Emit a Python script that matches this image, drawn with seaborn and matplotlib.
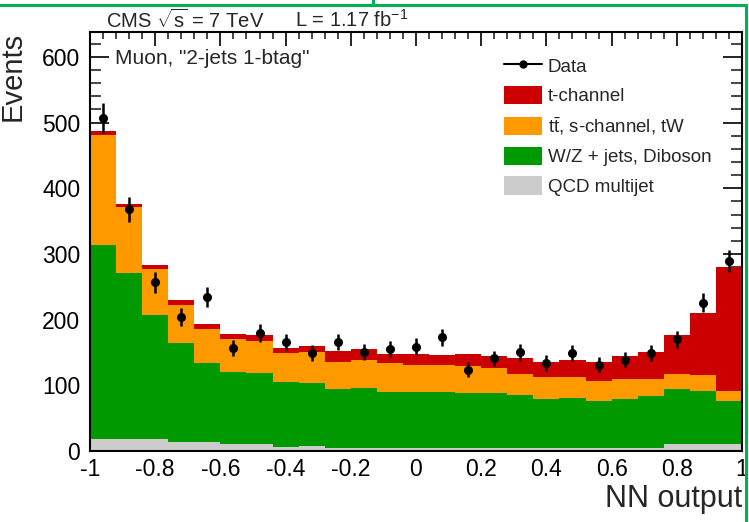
import numpy as np
import pandas as pd
import matplotlib
matplotlib.use("Agg")
import matplotlib.pyplot as plt
from matplotlib.lines import Line2D
from matplotlib.patches import Patch
from matplotlib.ticker import MultipleLocator
import seaborn as sns

# ---------------- data ----------------
bin_edges = [round(-1.0 + 0.08 * i, 2) for i in range(26)]

qcd = [18, 18, 18, 13, 13, 10, 10, 6, 8, 4, 5, 5, 5, 5, 4, 4, 5, 5, 4, 5, 4, 5, 10, 10, 10]
wz_top = [314, 271, 207, 164, 134, 120, 119, 105, 104, 94, 96, 90, 90, 90, 88, 88, 85, 79, 81, 76, 79, 84, 94, 91, 76]
top_top = [481, 372, 277, 222, 186, 171, 167, 149, 150, 136, 139, 134, 131, 131, 129, 127, 118, 112, 112, 107, 109, 109, 118, 115, 91]
tch_top = [487, 376, 283, 230, 193, 178, 176, 157, 160, 152, 155, 148, 148, 146, 148, 145, 142, 136, 139, 136, 145, 151, 176, 210, 280]
data = [507, 368, 257, 204, 235, 157, 180, 166, 149, 166, 151, 155, 159, 173, 124, 141, 150, 134, 149, 131, 139, 149, 170, 226, 289]

labels = ["t-channel", r"t$\bar{\mathrm{t}}$, s-channel, tW", "W/Z + jets, Diboson", "QCD multijet"]
colors = ["#CC0000", "#FF9900", "#009900", "#CCCCCC"]
xtick_labels = ["-1", "-0.8", "-0.6", "-0.4", "-0.2", "0", "0.2", "0.4", "0.6", "0.8", "1"]

# component contributions (stack order bottom: QCD, W/Z, top, t-channel)
qcd_a = np.array(qcd, float)
wz_a = np.array(wz_top, float) - qcd_a
top_a = np.array(top_top, float) - np.array(wz_top, float)
tch_a = np.array(tch_top, float) - np.array(top_top, float)

edges_a = np.array(bin_edges)
centers = 0.5 * (edges_a[:-1] + edges_a[1:])
frames = []
for lab, vals in zip(labels, [tch_a, top_a, wz_a, qcd_a]):
    frames.append(pd.DataFrame({"x": centers, "w": vals, "comp": lab}))
df = pd.concat(frames, ignore_index=True)

# ---------------- style ----------------
sns.set_theme(style="ticks")
plt.rcParams["font.family"] = ["Liberation Sans", "DejaVu Sans"]
plt.rcParams["mathtext.fontset"] = "custom"
plt.rcParams["mathtext.rm"] = "Liberation Sans"
plt.rcParams["mathtext.it"] = "Liberation Sans:italic"
plt.rcParams["axes.unicode_minus"] = False

fig = plt.figure(figsize=(7.49, 5.22), dpi=100)
ax = fig.add_axes([90 / 749, 1 - 451 / 522, (742 - 90) / 749, (451 - 32) / 522])

sns.histplot(data=df, x="x", weights="w", hue="comp", hue_order=labels,
             palette=dict(zip(labels, colors)), bins=bin_edges,
             multiple="stack", element="step", fill=True, alpha=1,
             linewidth=0, legend=False, ax=ax)

ax.errorbar(centers, data, yerr=np.sqrt(np.array(data, float)), fmt="o",
            color="black", ms=5.5, elinewidth=1.8, capsize=0, zorder=5)

ax.set_xlim(-1, 1)
ax.set_ylim(0, 638)
ax.xaxis.set_minor_locator(MultipleLocator(0.04))
ax.yaxis.set_major_locator(MultipleLocator(100))
ax.yaxis.set_minor_locator(MultipleLocator(20))
ax.set_xticks(np.linspace(-1, 1, 11))
ax.set_xticklabels(xtick_labels)

ax.tick_params(axis="x", which="major", direction="in", length=10, width=1.2,
               top=True, bottom=True, labelsize=16.5, pad=5, colors="black")
ax.tick_params(axis="x", which="minor", direction="in", length=5, width=1.2,
               top=True, bottom=True)
ax.tick_params(axis="y", which="major", direction="in", length=14, width=1.2,
               left=True, right=True, labelsize=16.5, pad=7, colors="black")
ax.tick_params(axis="y", which="minor", direction="in", length=8, width=1.2,
               left=True, right=True)
for s in ax.spines.values():
    s.set_linewidth(1.5)
    s.set_color("black")
    s.set_visible(True)

ax.set_xlabel("NN output", loc="right", fontsize=22)
ax.xaxis.set_label_coords(1.0, -(484 - 451) / 419)
ax.set_ylabel("Events", loc="top", fontsize=21)
ax.yaxis.set_label_coords(-(90 - 27) / 652, 1.0)

# texts
fig.text(106 / 749, 1 - 20 / 522, r"CMS $\sqrt{\mathrm{s}}$ = 7 TeV", fontsize=14.5,
         ha="left", va="center")
fig.text(295 / 749, 1 - 20 / 522, r"L = 1.17 fb$^{-1}$", fontsize=14.5,
         ha="left", va="center")
ax.text(0.038, 0.937, 'Muon, "2-jets 1-btag"', transform=ax.transAxes,
        fontsize=15, ha="left", va="center")

handles = [Line2D([], [], color="black", marker="o", ms=5, lw=1.5)]
handles += [Patch(facecolor=c, edgecolor="none") for c in colors]
leg = ax.legend(handles, ["Data"] + labels, loc="upper left",
                bbox_to_anchor=(504 / 749, 1 - 56 / 522), bbox_transform=fig.transFigure,
                frameon=False, fontsize=13.5, borderpad=0, borderaxespad=0,
                handlelength=2.03, handleheight=1.15, handletextpad=0.3,
                labelspacing=0.53)

# slide frame decoration (green lines)
green = "#00B050"
fig.add_artist(Line2D([0, 745.5 / 749], [1 - 5 / 522, 1 - 5 / 522], color=green, lw=2.2,
                      transform=fig.transFigure))
fig.add_artist(Line2D([745.5 / 749, 745.5 / 749], [0, 1 - 5 / 522], color=green, lw=2.2,
                      transform=fig.transFigure))
fig.add_artist(Line2D([373 / 749, 373 / 749], [1 - 5 / 522, 1], color=green, lw=2.2,
                      transform=fig.transFigure))

fig.savefig("out.png", dpi=100)
